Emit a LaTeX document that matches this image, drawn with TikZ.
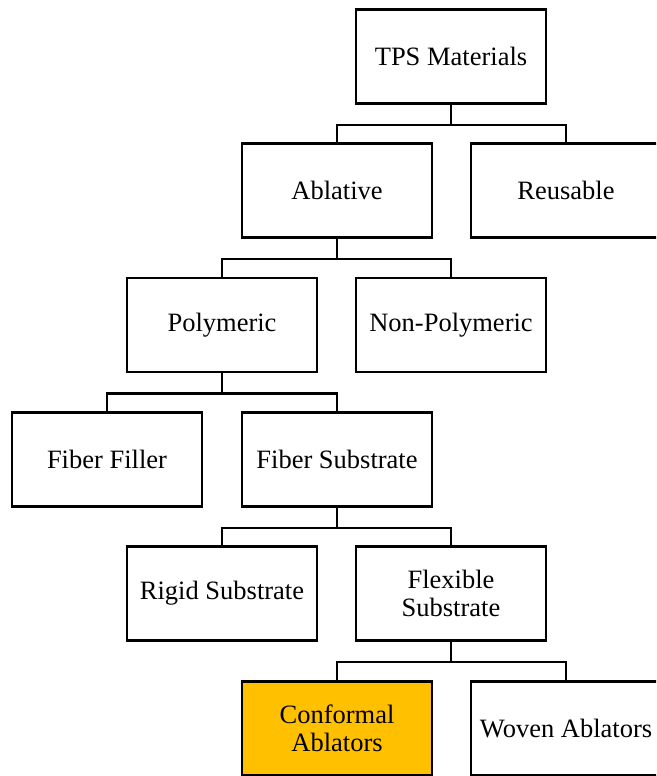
\documentclass[tikz,border=0pt]{standalone}
\usepackage{fontspec}
\setmainfont{Liberation Serif}
\definecolor{orangefill}{HTML}{FFC000}
\begin{document}
\begin{tikzpicture}[x=1pt,y=-1pt,
  box/.style={draw=black, line width=2.6pt, fill=white, minimum width=190pt, minimum height=94pt,
    inner sep=0pt, align=center, font=\fontsize{26.5}{28}\selectfont},
  link/.style={draw=black, line width=2.6pt}]
\useasboundingbox (0,0) rectangle (656,776);
\clip (0,0) rectangle (656,776);
\node[box] (tps) at (451,56.5) {TPS Materials};
\node[box] (abl) at (337,190.5) {Ablative};
\node[box] (reu) at (566,190.5) {Reusable};
\node[box] (pol) at (222,325) {Polymeric};
\node[box] (npol) at (451,325) {Non-Polymeric};
\node[box] (ffil) at (107,459.5) {Fiber Filler};
\node[box] (fsub) at (337,459.5) {Fiber Substrate};
\node[box] (rig) at (222,593.5) {Rigid Substrate};
\node[box] (flex) at (451,593.5) {Flexible\\Substrate};
\node[box, fill=orangefill] (conf) at (337,728.5) {Conformal\\Ablators};
\node[box] (wov) at (566,728.5) {Woven Ablators};
\foreach \p/\c in {tps/abl, tps/reu, abl/pol, abl/npol, pol/ffil, pol/fsub, fsub/rig, fsub/flex, flex/conf, flex/wov}
  \draw[link] (\p.south) -- ++(0,20) -| (\c.north);
\end{tikzpicture}
\end{document}
